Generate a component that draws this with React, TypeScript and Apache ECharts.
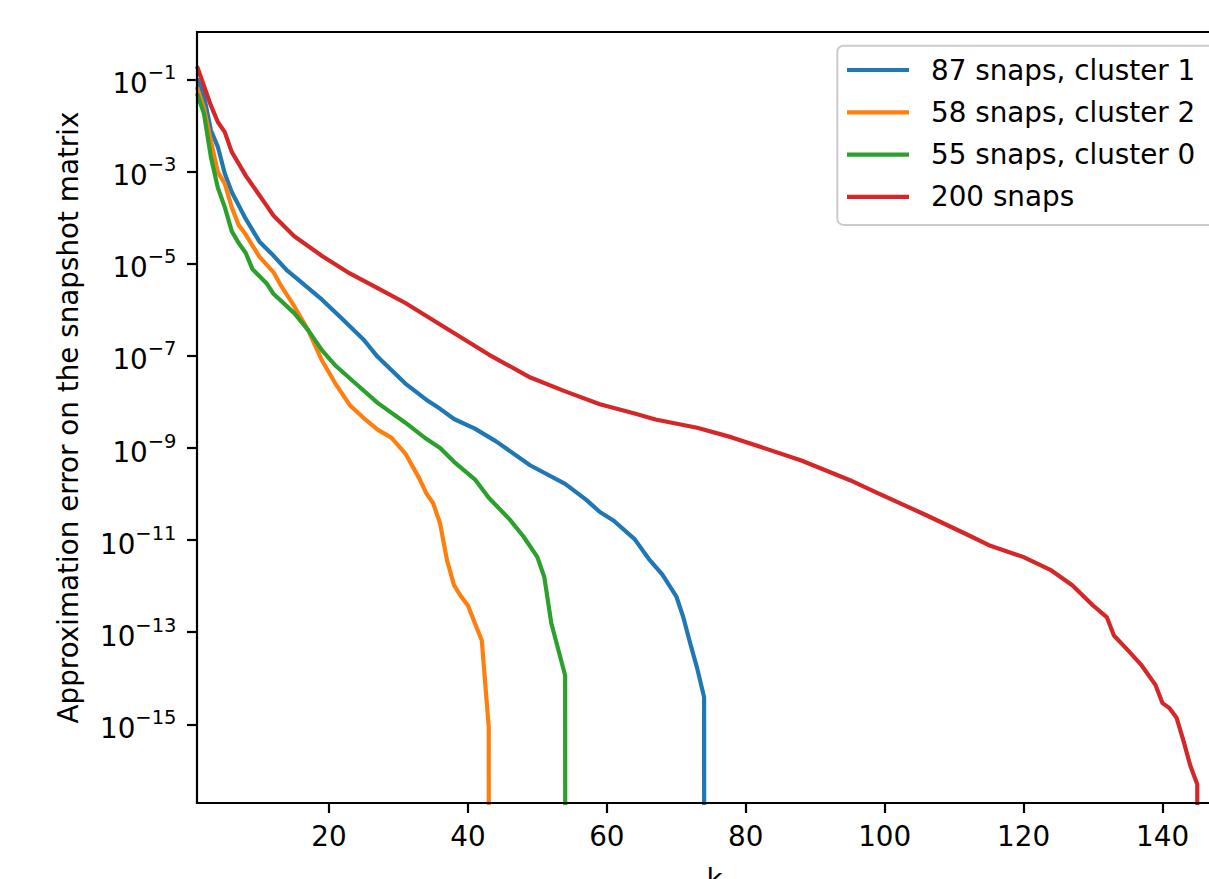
import React, { useEffect, useRef } from 'react';
import * as echarts from 'echarts';

// ---- data ----
const kBlue = [1, 2, 3, 4, 5, 6, 8, 10, 12, 14, 16, 19, 22, 25, 27, 31, 34, 36, 38, 41, 44, 49, 54, 57, 59, 61, 64, 66, 68, 70, 71, 72, 73, 74, 75];
const errBlue = [1.05e-1, 4.37e-2, 7.94e-3, 3.47e-3, 9.12e-4, 3.63e-4, 9.55e-5, 3.02e-5, 1.51e-5, 7.08e-6, 3.98e-6, 1.66e-6, 6.17e-7, 2.24e-7, 9.55e-8, 2.51e-8, 1.12e-8, 7.08e-9, 4.27e-9, 2.63e-9, 1.41e-9, 4.17e-10, 1.66e-10, 7.59e-11, 4.07e-11, 2.63e-11, 1.05e-11, 3.98e-12, 1.78e-12, 6.03e-13, 2.14e-13, 5.75e-14, 1.66e-14, 3.89e-15, 0];

const kOrange = [1, 2, 3, 4, 5, 6, 7, 8, 10, 12, 13, 15, 17, 19, 21, 23, 25, 27, 29, 31, 33, 34, 35, 36, 37, 38, 39, 40, 42, 43, 44];
const errOrange = [6.92e-2, 2.4e-2, 4.79e-3, 9.77e-4, 5.5e-4, 1.7e-4, 6.92e-5, 4.37e-5, 1.41e-5, 6.61e-6, 3.55e-6, 1.2e-6, 3.63e-7, 7.94e-8, 2.4e-8, 8.51e-9, 4.47e-9, 2.51e-9, 1.66e-9, 7.59e-10, 2.19e-10, 1.05e-10, 6.31e-11, 2.29e-11, 3.63e-12, 1.05e-12, 6.03e-13, 3.8e-13, 6.61e-14, 8.71e-16, 0];

const kGreen = [1, 2, 3, 4, 5, 6, 7, 8, 9, 11, 12, 15, 17, 19, 21, 24, 27, 31, 34, 36, 38, 41, 43, 46, 48, 50, 51, 52, 53, 54, 55];
const errGreen = [5.01e-2, 1.82e-2, 2.09e-3, 4.47e-4, 1.7e-4, 5.13e-5, 2.82e-5, 1.74e-5, 7.59e-6, 3.8e-6, 2.24e-6, 8.51e-7, 3.63e-7, 1.32e-7, 6.03e-8, 2.4e-8, 9.55e-9, 3.55e-9, 1.58e-9, 1e-9, 5.01e-10, 2.09e-10, 8.32e-11, 2.82e-11, 1.2e-11, 4.27e-12, 1.58e-12, 1.58e-13, 4.27e-14, 1.15e-14, 0];

const kRed = [1, 3, 4, 5, 6, 8, 11, 12, 15, 19, 23, 27, 31, 36, 43, 49, 54, 59, 64, 67, 73, 78, 88, 95, 99, 106, 112, 115, 120, 124, 127, 130, 132, 133, 135, 137, 139, 140, 141, 142, 143, 144, 145, 146];
const errRed = [1.95e-1, 2.75e-2, 1.2e-2, 7.24e-3, 2.69e-3, 8.3e-4, 1.86e-4, 1.12e-4, 3.98e-5, 1.48e-5, 6.17e-6, 2.95e-6, 1.41e-6, 4.79e-7, 1.07e-7, 3.39e-8, 1.7e-8, 8.91e-9, 5.62e-9, 4.17e-9, 2.75e-9, 1.7e-9, 5.37e-10, 2e-10, 1.05e-10, 3.47e-11, 1.29e-11, 7.76e-12, 4.27e-12, 2.19e-12, 1.05e-12, 3.8e-13, 2.09e-13, 8.5e-14, 4.07e-14, 1.9e-14, 7.08e-15, 2.88e-15, 2.24e-15, 1.41e-15, 4.47e-16, 1.26e-16, 5e-17, 0];

const seriesNames = ['87 snaps, cluster 1', '58 snaps, cluster 2', '55 snaps, cluster 0', '200 snaps'];
const xTicks = [20, 40, 60, 80, 100, 120, 140];
const yTickExponents = [-15, -13, -11, -9, -7, -5, -3, -1];
const xTitle = 'k';
const yTitle = 'Approximation error on the snapshot matrix';

const COLORS = ['#1f77b4', '#ff7f0e', '#2ca02c', '#d62728'];
const FONT = 'DejaVu Sans';

// log10 transform; non-positive values are clipped far below the axis (like matplotlib)
const toLog = (v: number) => (v > 0 ? Math.log10(v) : -300);
const pairs = (ks: number[], vs: number[]) => ks.map((k, i) => [k, toLog(vs[i])]);

export default function App() {
  const ref = useRef<HTMLDivElement>(null);
  useEffect(() => {
    if (!ref.current) return;
    const chart = echarts.init(ref.current, null, { renderer: 'svg' });
    const datasets = [
      pairs(kBlue, errBlue),
      pairs(kOrange, errOrange),
      pairs(kGreen, errGreen),
      pairs(kRed, errRed),
    ];
    const option: any = {
      animation: false,
      textStyle: { fontFamily: FONT },
      grid: {
        left: 197,
        top: 32,
        right: -23,
        bottom: 76,
        containLabel: false,
        outerBoundsMode: 'none',
        show: true,
        borderColor: '#000',
        borderWidth: 2.2,
        backgroundColor: 'transparent',
        z: 3,
      },
      xAxis: {
        type: 'value',
        min: 1,
        max: 150,
        name: xTitle,
        nameLocation: 'middle',
        nameGap: 62,
        nameTextStyle: { fontSize: 27.8, color: '#000', fontFamily: FONT },
        axisLine: { show: false, onZero: false },
        axisTick: { show: true, length: 10, lineStyle: { color: '#000', width: 2.2 }, customValues: xTicks },
        axisLabel: { customValues: xTicks, margin: 19.5, fontSize: 27.8, color: '#000', fontFamily: FONT },
        splitLine: { show: false },
      },
      yAxis: {
        type: 'value',
        min: -16.709,
        max: 0.034,
        name: yTitle,
        nameLocation: 'middle',
        nameGap: 115,
        nameTextStyle: { fontSize: 27.8, color: '#000', fontFamily: FONT },
        axisLine: { show: false, onZero: false },
        axisTick: { show: true, length: 10, lineStyle: { color: '#000', width: 2.2 }, customValues: yTickExponents },
        axisLabel: {
          customValues: yTickExponents,
          margin: 20.5,
          padding: [1, 0, 0, 0],
          formatter: (v: number) => `{b|10}{s|\u2212${Math.abs(Math.round(v))}}`,
          rich: {
            b: { fontSize: 27.8, color: '#000', fontFamily: FONT, verticalAlign: 'bottom', lineHeight: 35 },
            s: { fontSize: 19.5, color: '#000', fontFamily: FONT, verticalAlign: 'top', lineHeight: 20 },
          },
        },
        splitLine: { show: false },
      },
      legend: {
        orient: 'vertical',
        left: 837.3,
        top: 45.7,
        padding: [10.3, 40, 14, 9.7],
        itemWidth: 62,
        itemHeight: 4.2,
        itemGap: 14.3,
        icon: 'rect',
        backgroundColor: 'rgba(255,255,255,0.8)',
        borderColor: '#cccccc',
        borderWidth: 2,
        borderRadius: 6,
        textStyle: { fontSize: 27.8, color: '#000', fontFamily: FONT, lineHeight: 28, padding: [0, 0, 0, 17] },
        data: seriesNames,
      },
      series: seriesNames.map((name, i) => ({
        type: 'line',
        name,
        data: datasets[i],
        symbol: 'none',
        color: COLORS[i],
        lineStyle: { width: 4.2, color: COLORS[i], join: 'round', cap: 'butt' },
        itemStyle: { color: COLORS[i] },
        clip: true,
        z: 2,
      })),
    };
    chart.setOption(option);
    return () => chart.dispose();
  }, []);
  return (
    <div
      ref={ref}
      style={{ position: 'absolute', left: 0, top: 0, width: 1209, height: 879, background: '#fff' }}
    />
  );
}
